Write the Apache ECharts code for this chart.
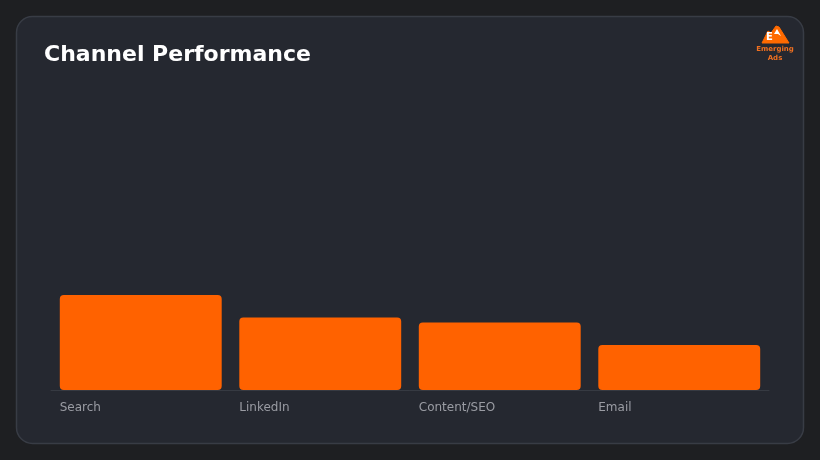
<!DOCTYPE html>
<html>
<head>
<meta charset="utf-8">
<script src="https://cdn.jsdelivr.net/npm/echarts@6/dist/echarts.min.js"></script>
<style>
  html, body { margin: 0; padding: 0; background: #1e1f22; }
  #chart { width: 820px; height: 460px; }
</style>
</head>
<body>
<div id="chart"></div>
<script>
// data
var channels = ['Search', 'LinkedIn', 'Content/SEO', 'Email'];
var performance = [38, 29, 27, 18];

var chart = echarts.init(document.getElementById('chart'));

var logoText = { fill: '#f07020', fontSize: 7, fontWeight: 'bold', fontFamily: 'DejaVu Sans', align: 'center', verticalAlign: 'top' };

var option = {
  backgroundColor: '#1e1f22',
  animation: false,
  graphic: [
    // card
    {
      type: 'rect', z: -10,
      shape: { x: 16.5, y: 16.5, width: 787, height: 427, r: 16 },
      style: { fill: '#252830', stroke: '#383c45', lineWidth: 1.5 }
    },
    // logo mark
    {
      type: 'polygon', z: 10,
      shape: { points: [[762, 43], [768, 31], [771, 33], [776, 26], [779, 27], [789, 43]] },
      style: { fill: '#ff6a00', stroke: '#ff6a00', lineWidth: 1, lineJoin: 'round' }
    },
    {
      type: 'text', z: 11, x: 766, y: 32,
      style: { text: 'E', fill: '#ffffff', fontSize: 10, fontWeight: 'bold', fontFamily: 'DejaVu Sans' }
    },
    {
      type: 'polygon', z: 11,
      shape: { points: [[774, 34], [777, 29], [781, 36], [778, 34]] },
      style: { fill: '#ffffff' }
    },
    {
      type: 'text', z: 10, x: 775, y: 46,
      style: Object.assign({ text: 'Emerging' }, logoText)
    },
    {
      type: 'text', z: 10, x: 775, y: 55,
      style: Object.assign({ text: 'Ads' }, logoText)
    }
  ],
  title: {
    text: 'Channel Performance',
    left: 39, top: 39,
    textStyle: { color: '#ffffff', fontSize: 22, fontWeight: 'bold', fontFamily: 'DejaVu Sans' }
  },
  grid: { left: 51, right: 51, top: 140, bottom: 70 },
  xAxis: {
    type: 'category',
    data: channels,
    axisLine: { lineStyle: { color: '#363a42' } },
    axisTick: { show: false },
    axisLabel: {
      margin: 12,
      formatter: '{a|{value}}',
      rich: { a: { width: 162, align: 'left', color: '#9a9ca3', fontSize: 12, fontFamily: 'DejaVu Sans' } }
    }
  },
  yAxis: {
    type: 'value', min: 0, max: 100, show: false,
    splitLine: { show: false }
  },
  series: [{
    type: 'bar',
    data: performance,
    barCategoryGap: '9.8%',
    itemStyle: { color: '#ff6200', borderRadius: 4 }
  }]
};

chart.setOption(option);
</script>
</body>
</html>
